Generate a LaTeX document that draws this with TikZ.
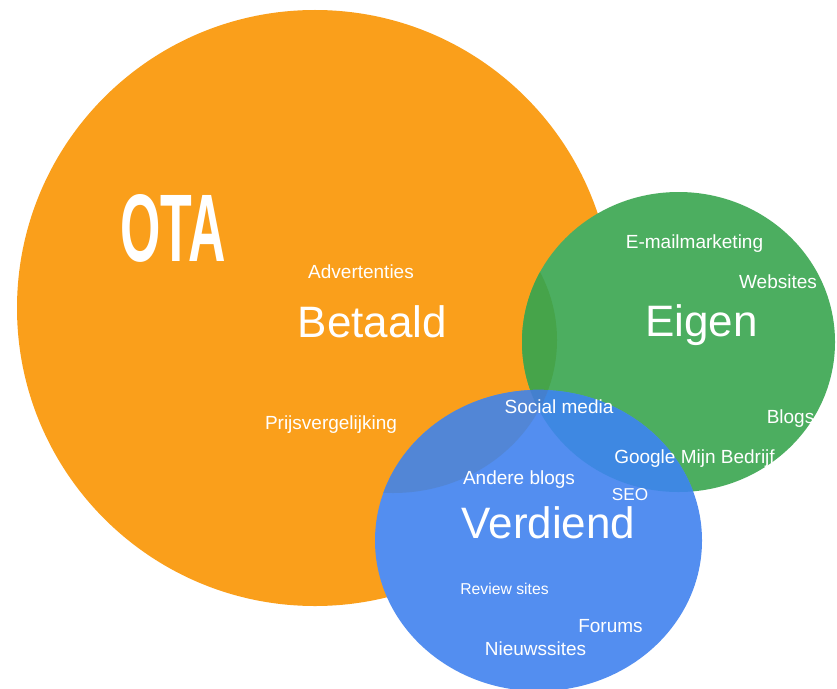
\documentclass[tikz,border=0pt]{standalone}
\usepackage{fontspec}
\setmainfont{Liberation Sans}
\definecolor{cOrange}{RGB}{250,159,27}
\definecolor{cGreen}{RGB}{76,174,96}
\definecolor{cLens}{RGB}{70,164,74}
\definecolor{cBlue}{RGB}{83,142,240}
\definecolor{cBlueO}{RGB}{82,134,214}
\definecolor{cBlueG}{RGB}{62,136,226}
\definecolor{cTriple}{RGB}{68,128,206}
\tikzset{
  lbl/.style={text=white, inner sep=0pt, anchor=base, font=\fontsize{14.25pt}{16pt}\selectfont},
  lblsmall/.style={lbl, font=\fontsize{11.8pt}{13pt}\selectfont},
  lblseo/.style={lbl, font=\fontsize{12.9pt}{14pt}\selectfont},
  lblbig/.style={lbl, font=\fontsize{33pt}{36pt}\selectfont},
  lblota/.style={lbl, font=\fontsize{72pt}{76pt}\selectfont\bfseries},
}
\begin{document}
\begin{tikzpicture}[x=0.75pt,y=-0.75pt]
\useasboundingbox (0,0) rectangle (837,688);
\fill[white] (0,0) rectangle (837,688);
% shapes
\def\bigO{(315,308) circle [radius=298*0.75pt]}
\def\smallO{(393,340) ellipse [x radius=164*0.75pt, y radius=153*0.75pt]}
\def\grn{(678.5,342) ellipse [x radius=156.5*0.75pt, y radius=150*0.75pt]}
\def\blu{(538.5,540.5) ellipse [x radius=163.5*0.75pt, y radius=150.6*0.75pt]}
\fill[cOrange] \bigO;
\fill[cGreen] \grn;
\fill[cBlue] \blu;
\begin{scope}
  \clip \smallO;
  \fill[cLens] \grn;
\end{scope}
\begin{scope}
  \clip \blu;
  \fill[cBlueG] \grn;
  \begin{scope}
    \clip \smallO;
    \fill[cBlueO] (0,0) rectangle (837,688);
    \clip \grn;
    \fill[cTriple] (0,0) rectangle (837,688);
  \end{scope}
\end{scope}
% labels
\node[lblota] (ota) at (173,261) {\scalebox{0.54}[1]{OTA}};
\node[lbl] (adv) at (361,278) {Advertenties};
\node[lblbig] (betaald) at (372.5,337) {Betaald};
\node[lbl] (prijs) at (331,429) {Prijsvergelijking};
\node[lbl] (email) at (694.5,248) {E-mailmarketing};
\node[lbl] (web) at (778,288) {Websites};
\node[lblbig] (eigen) at (701.5,336) {Eigen};
\node[lbl] (blogs) at (790.5,423) {Blogs};
\node[lbl] (social) at (559,413) {Social media};
\node[lbl] (google) at (694.5,463) {Google Mijn Bedrijf};
\node[lbl] (andere) at (519,484) {Andere blogs};
\node[lblseo] (seo) at (630,500) {SEO};
\node[lblbig] (verdiend) at (548.5,538) {Verdiend};
\node[lblsmall] (review) at (504.5,594) {Review sites};
\node[lbl] (forums) at (610.5,632) {Forums};
\node[lbl] (nieuws) at (535.5,655) {Nieuwssites};
\end{tikzpicture}
\end{document}
